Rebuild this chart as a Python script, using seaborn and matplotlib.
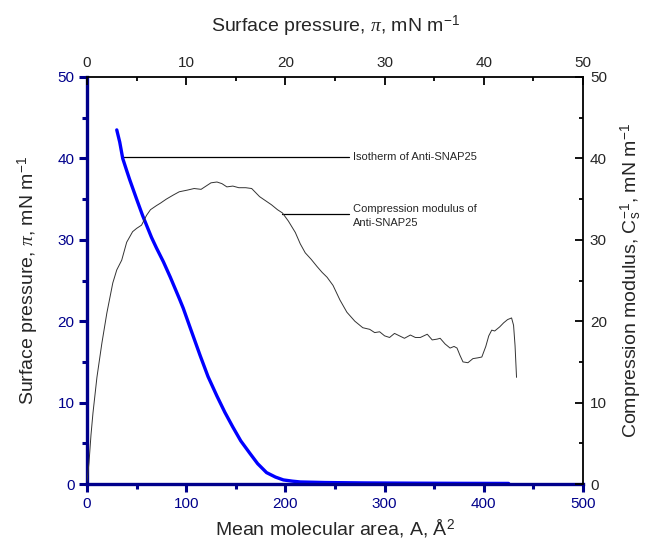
import numpy as np
import pandas as pd
import matplotlib
matplotlib.use("Agg")
import matplotlib.pyplot as plt
from matplotlib.ticker import MultipleLocator
import seaborn as sns

# Isotherm: mean molecular area (A, Å^2) vs surface pressure (mN/m)
area = [30, 33, 36, 40, 43, 50, 56, 60, 65, 70, 77, 84, 93, 97, 104, 114, 122,
        131, 139, 147, 155, 164, 172, 181, 190, 198, 207, 215, 240, 280, 330, 380, 425]
pressure = [43.5, 42.0, 40.0, 38.5, 37.4, 35.0, 33.0, 31.8, 30.3, 29.0, 27.3, 25.4,
            22.8, 21.6, 19.2, 15.8, 13.2, 10.8, 8.8, 7.0, 5.3, 3.8, 2.5, 1.4, 0.85,
            0.5, 0.35, 0.25, 0.18, 0.13, 0.10, 0.08, 0.07]

# Compression modulus vs surface pressure
mod_pi = [0.0, 0.2, 0.4, 0.6, 1.0, 1.5, 2.0, 2.6, 3.0, 3.5, 4.0, 4.6, 5.0, 5.5, 6.0,
          6.4, 7.0, 7.4, 8.0, 8.7, 9.3, 10.1, 10.8, 11.5, 12.0, 12.5, 13.1, 13.6,
          14.1, 14.7, 15.3, 16.0, 16.6, 17.0, 17.4, 18.0, 18.6, 19.2, 19.7, 20.3,
          21.0, 21.5, 22.0, 22.6, 23.2, 23.7, 24.2, 24.8, 25.5, 26.2, 27.0, 27.8,
          28.5, 29.0, 29.5, 30.0, 30.5, 31.0, 31.5, 32.0, 32.6, 33.1, 33.6, 34.3,
          34.8, 35.3, 35.6, 36.1, 36.6, 37.0, 37.3, 37.6, 37.9, 38.4, 38.9, 39.4,
          39.8, 40.2, 40.5, 40.8, 41.1, 41.6, 42.0, 42.4, 42.8, 43.0, 43.15, 43.3]
mod_cs = [0.3, 2.6, 6.0, 8.7, 13.1, 17.3, 21.0, 24.7, 26.3, 27.5, 29.7, 31.0, 31.4,
          31.8, 33.0, 33.7, 34.2, 34.5, 35.0, 35.5, 35.9, 36.1, 36.3, 36.2, 36.6,
          37.0, 37.1, 36.9, 36.5, 36.6, 36.4, 36.4, 36.3, 35.8, 35.3, 34.8, 34.3,
          33.7, 33.3, 32.3, 30.9, 29.5, 28.4, 27.6, 26.7, 26.0, 25.4, 24.4, 22.6,
          21.1, 20.0, 19.2, 19.0, 18.6, 18.7, 18.2, 18.0, 18.5, 18.2, 17.9, 18.3,
          18.0, 18.0, 18.4, 17.7, 17.8, 17.9, 17.2, 16.7, 16.9, 16.7, 15.8, 15.0,
          14.9, 15.4, 15.5, 15.6, 16.9, 18.2, 18.9, 18.8, 19.3, 19.8, 20.2, 20.4,
          19.5, 17.0, 13.1]

sns.set_style("ticks")
plt.rcParams['font.family'] = ['Liberation Sans', 'DejaVu Sans']
plt.rcParams['mathtext.fontset'] = 'custom'
plt.rcParams['mathtext.rm'] = 'Liberation Sans'
plt.rcParams['mathtext.it'] = 'Liberation Serif:italic'
plt.rcParams['mathtext.sf'] = 'Liberation Sans'

NAVY = '#00008B'
fig = plt.figure(figsize=(6.46, 5.43), dpi=100)
rect = [87 / 646, 1 - 484 / 543, (583 - 87) / 646, (484 - 77) / 543]
ax = fig.add_axes(rect)
ax2 = fig.add_axes(rect, frameon=True)
ax2.patch.set_visible(False)

df_iso = pd.DataFrame({'A': area, 'pi': pressure})
df_mod = pd.DataFrame({'pi': mod_pi, 'cs': mod_cs})

sns.lineplot(data=df_iso, x='A', y='pi', ax=ax, color='#0000FF', linewidth=2.4,
             zorder=3)
sns.lineplot(data=df_mod, x='pi', y='cs', ax=ax2, color='#333333', linewidth=0.7)

# main axes: bottom & left (navy, thick)
ax.set_xlim(0, 500)
ax.set_ylim(0, 50)
ax.xaxis.set_major_locator(MultipleLocator(100))
ax.xaxis.set_minor_locator(MultipleLocator(50))
ax.yaxis.set_major_locator(MultipleLocator(10))
ax.yaxis.set_minor_locator(MultipleLocator(5))
for s in ['top', 'right']:
    ax.spines[s].set_visible(False)
for s in ['left', 'bottom']:
    ax.spines[s].set_color(NAVY)
    ax.spines[s].set_linewidth(2.4)
    ax.spines[s].set_zorder(5)
ax.tick_params(which='major', direction='out', length=6, width=2.2, color=NAVY,
               labelcolor=NAVY, labelsize=11, pad=3)
ax.tick_params(which='minor', direction='out', length=3.5, width=2.2, color=NAVY)
ax.set_xlabel('Mean molecular area, A, Å$^{2}$', fontsize=14, labelpad=5)
ax.set_ylabel('Surface pressure, $\\mathit{\\pi}$, mN m$^{-1}$', fontsize=14, labelpad=12)

# secondary axes: top & right (black, thin)
ax2.set_xlim(0, 50)
ax2.set_ylim(0, 50)
ax2.xaxis.tick_top()
ax2.xaxis.set_label_position('top')
ax2.yaxis.tick_right()
ax2.yaxis.set_label_position('right')
ax2.xaxis.set_major_locator(MultipleLocator(10))
ax2.xaxis.set_minor_locator(MultipleLocator(5))
ax2.yaxis.set_major_locator(MultipleLocator(10))
ax2.yaxis.set_minor_locator(MultipleLocator(5))
for s in ['left', 'bottom']:
    ax2.spines[s].set_visible(False)
for s in ['top', 'right']:
    ax2.spines[s].set_visible(True)
    ax2.spines[s].set_color('black')
    ax2.spines[s].set_linewidth(1.3)
ax2.tick_params(which='major', direction='in', length=6, width=1.3, color='black',
                labelsize=11, pad=5)
ax2.tick_params(which='minor', direction='in', length=3, width=1.3, color='black')
ax2.set_xlabel('Surface pressure, $\\mathit{\\pi}$, mN m$^{-1}$', fontsize=14, labelpad=17)
ax2.set_ylabel('Compression modulus, C$_{\\mathrm{s}}^{-1}$, mN m$^{-1}$', fontsize=14,
               labelpad=8)

# annotations (data-coordinate leader lines)
ax.plot([36.5, 264], [40.2, 40.2], color='black', linewidth=0.9)
ax.text(268, 40.2, 'Isotherm of Anti-SNAP25', fontsize=8, va='center', ha='left')
ax.plot([197, 264], [33.2, 33.2], color='black', linewidth=0.9)
ax.text(268, 34.4, 'Compression modulus of\nAnti-SNAP25', fontsize=8,
        va='top', ha='left', linespacing=1.45)

fig.savefig('out.png', dpi=100)
